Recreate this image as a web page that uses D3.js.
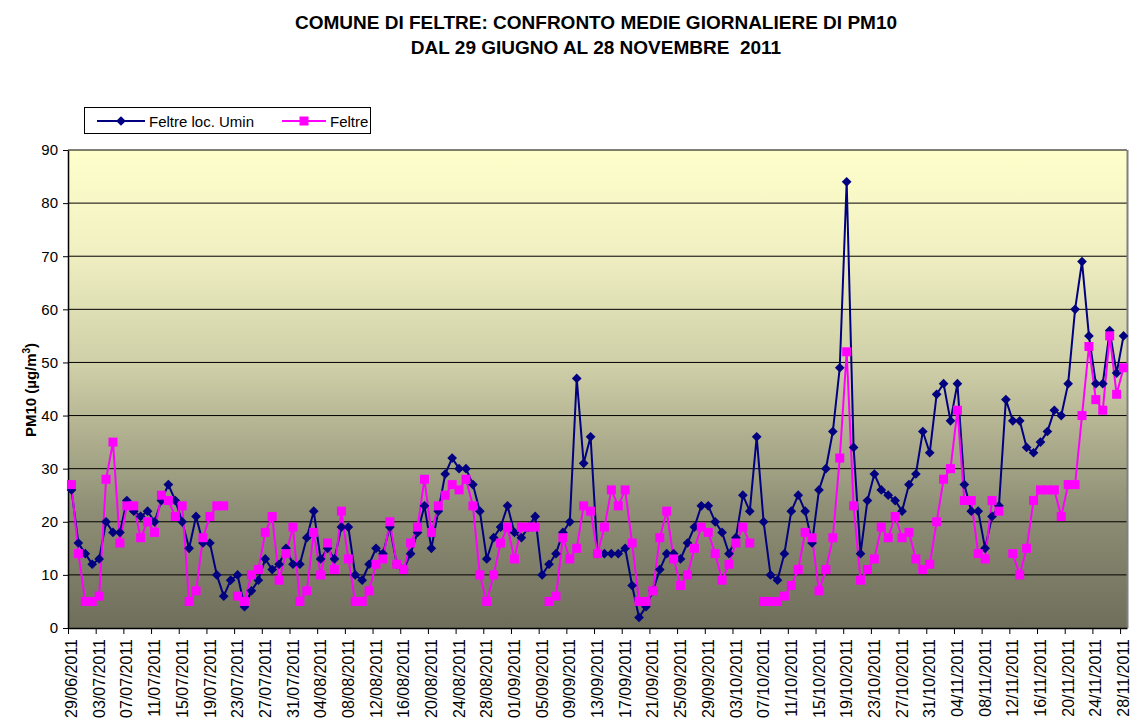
<!DOCTYPE html>
<html>
<head>
<meta charset="utf-8">
<script src="https://cdn.jsdelivr.net/npm/d3@7"></script>
<style>
  body { margin: 0; background: #fff; }
  svg { font-family: "Liberation Sans", Arial, sans-serif; }
</style>
</head>
<body>
<svg width="1132" height="722"></svg>
<script>
// daily PM10 means, 29/06/2011 .. 28/11/2011 (null = no data)
const umin = [
  26, 16, 14, 12, 13, 20, 18, 18, 24, 22, 21, 22, 20, 24, 27, 24, 20, 15, 21, 16,
  16, 10, 6, 9, 10, 4, 7, 9, 13, 11, 12, 15, 12, 12, 17, 22, 13, 15, 13, 19,
  19, 10, 9, 12, 15, 14, 19, 12, 11, 14, 18, 23, 15, 22, 29, 32, 30, 30, 27, 22,
  13, 17, 19, 23, 18, 17, 19, 21, 10, 12, 14, 18, 20, 47, 31, 36, 14, 14, 14, 14,
  15, 8, 2, 4, 7, 11, 14, 14, 13, 16, 19, 23, 23, 20, 18, 14, 17, 25, 22, 36,
  20, 10, 9, 14, 22, 25, 22, 16, 26, 30, 37, 49, 84, 34, 14, 24, 29, 26, 25, 24,
  22, 27, 29, 37, 33, 44, 46, 39, 46, 27, 22, 22, 15, 21, 23, 43, 39, 39, 34, 33,
  35, 37, 41, 40, 46, 60, 69, 55, 46, 46, 56, 48, 55
];
const feltre = [
  27, 14, 5, 5, 6, 28, 35, 16, 23, 23, 17, 20, 18, 25, 24, 21, 23, 5, 7, 17,
  21, 23, 23, null, 6, 5, 10, 11, 18, 21, 9, 14, 19, 5, 7, 18, 10, 16, 11, 22,
  13, 5, 5, 7, 12, 13, 20, 12, 11, 16, 19, 28, 18, 23, 25, 27, 26, 28, 23, 10,
  5, 10, 16, 19, 13, 19, 19, 19, null, 5, 6, 17, 13, 15, 23, 22, 14, 19, 26, 23,
  26, 16, 5, 5, 7, 17, 22, 13, 8, 10, 15, 19, 18, 14, 9, 12, 16, 19, 16, null,
  5, 5, 5, 6, 8, 11, 18, 17, 7, 11, 17, 32, 52, 23, 9, 11, 13, 19, 17, 21,
  17, 18, 13, 11, 12, 20, 28, 30, 41, 24, 24, 14, 13, 24, 22, null, 14, 10, 15, 24,
  26, 26, 26, 21, 27, 27, 40, 53, 43, 41, 55, 44, 49
];
const seriesNames = ["Feltre loc. Umin", "Feltre"];
const seriesColors = ["#000080", "#FF00FF"];
const yTicks = [0, 10, 20, 30, 40, 50, 60, 70, 80, 90];

const fmt = d3.timeFormat("%d/%m/%Y");
const dates = d3.timeDay.range(new Date(2011, 5, 29), new Date(2011, 10, 29));

const svg = d3.select("svg");
const plotL = 68, plotR = 1127, plotT = 150, plotB = 628;

const x = d3
  .scaleBand()
  .domain(d3.range(dates.length))
  .range([plotL, plotR])
  .padding(0);
const xEdge = d3.scaleLinear().domain([0, dates.length]).range([plotL, plotR]);
const y = d3.scaleLinear().domain([0, 90]).range([plotB, plotT]);
const cx = (i) => x(i) + x.bandwidth() / 2;

// background gradient of the plot area
const grad = svg
  .append("defs")
  .append("linearGradient")
  .attr("id", "bg")
  .attr("x1", 0)
  .attr("y1", 0)
  .attr("x2", 0)
  .attr("y2", 1);
[
  [0, "#FFFFCC"],
  [0.2, "#F1F1C3"],
  [0.45, "#CFCFA8"],
  [0.75, "#8F8F76"],
  [1, "#6E6E5B"],
].forEach(([o, c]) => grad.append("stop").attr("offset", o).attr("stop-color", c));

svg
  .append("rect")
  .attr("x", plotL)
  .attr("y", plotT)
  .attr("width", plotR - plotL)
  .attr("height", plotB - plotT)
  .attr("fill", "url(#bg)");

// gridlines
svg
  .append("g")
  .selectAll("line")
  .data(yTicks.slice(1))
  .join("line")
  .attr("x1", plotL)
  .attr("x2", plotR)
  .attr("y1", (d) => y(d))
  .attr("y2", (d) => y(d))
  .attr("stroke", "#000")
  .attr("stroke-width", 1);

// right border of plot
svg
  .append("line")
  .attr("x1", plotR + 0.5)
  .attr("x2", plotR + 0.5)
  .attr("y1", plotT)
  .attr("y2", plotB)
  .attr("stroke", "#808080")
  .attr("stroke-width", 2);

// y axis
const yAxis = svg
  .append("g")
  .attr("transform", `translate(${plotL},0)`)
  .call(d3.axisLeft(y).tickValues(yTicks).tickSize(5).tickSizeOuter(0).tickPadding(5));
yAxis.select(".domain").attr("stroke", "#000").attr("stroke-width", 1.5);
yAxis.selectAll("text").attr("font-size", 15).attr("fill", "#000").attr("font-family", "Liberation Sans, Arial");

// x axis ticks (category boundaries, every 4 days)
const xAxis = svg
  .append("g")
  .attr("transform", `translate(0,${plotB})`)
  .call(
    d3
      .axisBottom(xEdge)
      .tickValues(d3.range(0, dates.length, 4))
      .tickFormat("")
      .tickSize(6)
      .tickSizeOuter(0)
  );
xAxis.select(".domain").attr("stroke", "#000").attr("stroke-width", 1.5);

// x labels at category centres
const xLabels = svg
  .append("g")
  .attr("transform", `translate(0,${plotB})`)
  .call(
    d3
      .axisBottom(x)
      .tickValues(d3.range(0, dates.length, 4))
      .tickFormat((i) => fmt(dates[i]))
      .tickSize(0)
  );
xLabels.select(".domain").remove();
xLabels
  .selectAll("text")
  .attr("font-size", 16)
  .attr("font-family", "Liberation Sans, Arial")
  .attr("fill", "#000")
  .attr("text-anchor", "end")
  .attr("transform", "rotate(-90)")
  .attr("x", -11)
  .attr("y", 0)
  .attr("dy", "0.35em");

// series
const line = d3
  .line()
  .defined((d) => d != null)
  .x((d, i) => cx(i))
  .y((d) => y(d));

const dataSets = [umin, feltre];
dataSets.forEach((vals, s) => {
  svg
    .append("path")
    .datum(vals)
    .attr("fill", "none")
    .attr("stroke", seriesColors[s])
    .attr("stroke-width", 2)
    .attr("d", line);
});

// blue diamonds
svg
  .append("g")
  .selectAll("path")
  .data(umin.map((v, i) => [v, i]).filter((d) => d[0] != null))
  .join("path")
  .attr("d", d3.symbol(d3.symbolDiamond2, 60))
  .attr("transform", (d) => `translate(${cx(d[1])},${y(d[0])})`)
  .attr("fill", seriesColors[0]);

// magenta squares
svg
  .append("g")
  .selectAll("rect")
  .data(feltre.map((v, i) => [v, i]).filter((d) => d[0] != null))
  .join("rect")
  .attr("x", (d) => cx(d[1]) - 4.5)
  .attr("y", (d) => y(d[0]) - 4.5)
  .attr("width", 9)
  .attr("height", 9)
  .attr("fill", seriesColors[1]);

// title
const title = svg
  .append("text")
  .attr("x", 596)
  .attr("y", 29)
  .attr("text-anchor", "middle")
  .attr("font-size", 19)
  .attr("font-weight", "bold")
  .style("white-space", "pre");
title.append("tspan").attr("x", 596).text("COMUNE DI FELTRE: CONFRONTO MEDIE GIORNALIERE DI PM10");
title.append("tspan").attr("x", 596).attr("dy", 25).text("DAL 29 GIUGNO AL 28 NOVEMBRE  2011");

// y axis title
const yTitle = svg
  .append("text")
  .attr("transform", "translate(36,390) rotate(-90)")
  .attr("text-anchor", "middle")
  .attr("font-size", 15)
  .attr("font-weight", "bold");
yTitle.append("tspan").text("PM10 (µg/m");
yTitle.append("tspan").attr("dy", -6).attr("font-size", 10).text("3");
yTitle.append("tspan").attr("dy", 6).text(")");

// legend
const legend = svg.append("g");
legend
  .append("rect")
  .attr("x", 84.5)
  .attr("y", 107.5)
  .attr("width", 286)
  .attr("height", 26)
  .attr("fill", "#fff")
  .attr("stroke", "#000");
const legendItems = [
  { x0: 97, x1: 145, tx: 149 },
  { x0: 282, x1: 326, tx: 330 },
];
legendItems.forEach((it, s) => {
  const g = legend.append("g");
  g.append("line")
    .attr("x1", it.x0)
    .attr("x2", it.x1)
    .attr("y1", 121)
    .attr("y2", 121)
    .attr("stroke", seriesColors[s])
    .attr("stroke-width", 2);
  const mx = (it.x0 + it.x1) / 2;
  if (s === 0) {
    g.append("path")
      .attr("d", d3.symbol(d3.symbolDiamond2, 60))
      .attr("transform", `translate(${mx},121)`)
      .attr("fill", seriesColors[s]);
  } else {
    g.append("rect")
      .attr("x", mx - 4.5)
      .attr("y", 116.5)
      .attr("width", 9)
      .attr("height", 9)
      .attr("fill", seriesColors[s]);
  }
  g.append("text")
    .attr("x", it.tx)
    .attr("y", 126.5)
    .attr("font-size", 15)
    .text(seriesNames[s]);
});
</script>
</body>
</html>
